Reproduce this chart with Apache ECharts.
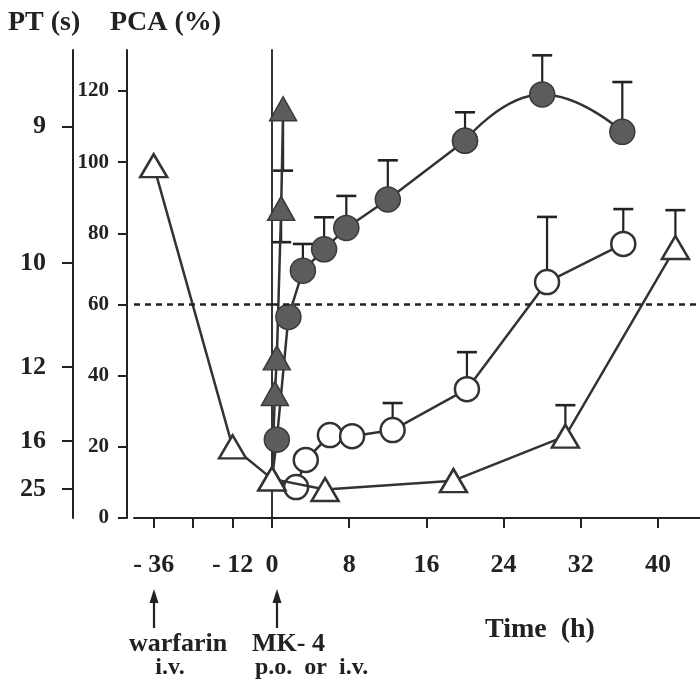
<!DOCTYPE html>
<html>
<head>
<meta charset="utf-8">
<script src="https://cdn.jsdelivr.net/npm/echarts@6/dist/echarts.min.js"></script>
<style>
  html, body { margin: 0; padding: 0; background: #fff; }
  #chart { width: 700px; height: 685px; }
</style>
</head>
<body>
<div id="chart"></div>
<script>
// Time axis (h): compressed pre-treatment section and main section
const preTicks = [-36, -24, -12, 0];
const preLabels = [-36, -12, 0];
const postTicks = [8, 16, 24, 32, 40];

// PCA axis (%)
const pcaTicks = [0, 20, 40, 60, 80, 100, 120];
// PT scale (s) and the PCA level each PT value corresponds to
const ptLabels = [9, 10, 12, 16, 25];
const ptAtPca = [110, 71.6, 42.4, 21.6, 8.1];
const pcaThreshold = 60;

// Warfarin only (open triangles)
const warfarinPreTime = [-36, -12, 0];
const warfarinPrePca = [99, 20, 11];
const warfarinTime = [0, 5.5, 18.8, 30.4, 41.8];
const warfarinPca = [11, 8, 10.5, 23, 76];
const warfarinUpper = [null, null, null, 31.7, 86.5];

// MK-4 i.v. (filled triangles)
const ivTime = [0, 0.3, 0.5, 0.95, 1.15];
const ivPca = [11, 35, 45, 87, 115];
const ivLower = [null, null, null, 77.5, 97.6];

// MK-4 p.o., fast responders (filled circles)
const poFastTime = [0, 0.5, 1.7, 3.2, 5.4, 7.7, 12, 20, 28, 36.3];
const poFastPca = [11, 22, 56.5, 69.5, 75.5, 81.5, 89.5, 106, 119, 108.5];
const poFastUpper = [null, null, null, 77, 84.5, 90.5, 100.5, 114, 130, 122.5];

// MK-4 p.o., slow responders (open circles)
const poSlowTime = [0, 2.5, 3.5, 6, 8.3, 12.5, 20.2, 28.5, 36.4];
const poSlowPca = [11, 8.7, 16.3, 23.3, 23, 24.7, 36.2, 66.3, 77];
const poSlowUpper = [null, null, null, null, null, 32.3, 46.6, 84.6, 86.8];

const INK = '#222';
const LINE = '#333';
const FONT = "'Liberation Serif', 'DejaVu Serif', serif";
const yMax = 131.5;

function pairs(xs, ys) { return xs.map((x, i) => [x, ys[i]]); }
function bars(xs, ys, bounds) {
  const out = [];
  xs.forEach((x, i) => { if (bounds[i] != null) out.push([x, ys[i], bounds[i]]); });
  return out;
}

// whisker from the mean to the bound, with a cap
function errorBarItem(params, api) {
  const p0 = api.coord([api.value(0), api.value(1)]);
  const p1 = api.coord([api.value(0), api.value(2)]);
  const half = 10;
  return {
    type: 'group',
    children: [
      { type: 'line', shape: { x1: p0[0], y1: p0[1], x2: p1[0], y2: p1[1] },
        style: { stroke: INK, lineWidth: 2.2 } },
      { type: 'line', shape: { x1: p1[0] - half, y1: p1[1], x2: p1[0] + half, y2: p1[1] },
        style: { stroke: INK, lineWidth: 2.6 } }
    ]
  };
}

function errorSeries(data, grid) {
  return {
    type: 'custom', xAxisIndex: grid, yAxisIndex: grid === 0 ? 0 : 2,
    renderItem: errorBarItem, data: data, z: 1, silent: true,
    encode: { x: 0, y: [1, 2] }
  };
}

const openTri = { symbol: 'triangle', symbolSize: [27, 23],
  itemStyle: { color: '#fff', borderColor: LINE, borderWidth: 2.5 } };
const fillTri = { symbol: 'triangle', symbolSize: [27, 24],
  itemStyle: { color: '#5c5c5c', borderColor: '#3a3a3a', borderWidth: 1.5 } };
const openCirc = { symbol: 'circle', symbolSize: 24,
  itemStyle: { color: '#fff', borderColor: LINE, borderWidth: 2.5 } };
const fillCirc = { symbol: 'circle', symbolSize: 25,
  itemStyle: { color: '#5c5c5c', borderColor: '#3a3a3a', borderWidth: 1.5 } };

function lineSeries(data, grid, marker, extra) {
  return Object.assign({
    type: 'line', xAxisIndex: grid, yAxisIndex: grid === 0 ? 0 : 2,
    data: data, z: 3,
    lineStyle: { color: LINE, width: 2.5 },
    symbol: marker.symbol, symbolSize: marker.symbolSize,
    itemStyle: marker.itemStyle, showSymbol: true, animation: false
  }, extra || {});
}

function thresholdLine() {
  return {
    silent: true, symbol: 'none', label: { show: false },
    lineStyle: { color: INK, type: [6, 5], width: 2.5 },
    data: [{ yAxis: pcaThreshold }]
  };
}

const labelStyle = { color: INK, fontFamily: FONT, fontWeight: 'bold' };
const axisLineStyle = { color: INK, width: 2 };

const chart = echarts.init(document.getElementById('chart'));

chart.setOption({
  animation: false,
  backgroundColor: '#fff',
  grid: [
    { left: 134, width: 138, top: 50, bottom: 167 },
    { left: 272, right: 0, top: 50, bottom: 167 }
  ],
  xAxis: [
    {
      type: 'value', gridIndex: 0, min: -42, max: 0,
      axisLine: { show: true, onZero: false, lineStyle: axisLineStyle },
      axisTick: { show: true, length: 10, lineStyle: axisLineStyle, customValues: preTicks },
      axisLabel: Object.assign({ fontSize: 26, margin: 34, customValues: preLabels,
        formatter: v => v < 0 ? '- ' + Math.abs(v) : String(v) }, labelStyle),
      splitLine: { show: false }
    },
    {
      type: 'value', gridIndex: 1, min: 0, max: 44.35,
      axisLine: { show: true, onZero: false, lineStyle: axisLineStyle },
      axisTick: { show: true, length: 10, lineStyle: axisLineStyle, customValues: postTicks },
      axisLabel: Object.assign({ fontSize: 26, margin: 34, customValues: postTicks }, labelStyle),
      splitLine: { show: false }
    }
  ],
  yAxis: [
    {
      // PCA (%)
      type: 'value', gridIndex: 0, min: 0, max: yMax, position: 'left', offset: 7,
      axisLine: { show: true, onZero: false, lineStyle: axisLineStyle },
      axisTick: { show: true, length: 9, lineStyle: axisLineStyle, customValues: pcaTicks },
      axisLabel: Object.assign({ fontSize: 21, margin: 18, customValues: pcaTicks }, labelStyle),
      splitLine: { show: false }
    },
    {
      // PT (s)
      type: 'value', gridIndex: 0, min: 0, max: yMax, position: 'left', offset: 61,
      axisLine: { show: true, onZero: false, lineStyle: axisLineStyle },
      axisTick: { show: true, length: 11, lineStyle: axisLineStyle, customValues: ptAtPca },
      axisLabel: Object.assign({ fontSize: 26, margin: 27, customValues: ptAtPca,
        formatter: v => {
          const i = ptAtPca.findIndex(p => Math.abs(p - v) < 1e-6);
          return i >= 0 ? String(ptLabels[i]) : '';
        } }, labelStyle),
      splitLine: { show: false }
    },
    {
      // time zero line
      type: 'value', gridIndex: 1, min: 0, max: yMax, position: 'left',
      axisLine: { show: true, onZero: false, lineStyle: { color: INK, width: 1.8 } },
      axisTick: { show: false }, axisLabel: { show: false }, splitLine: { show: false }
    }
  ],
  series: [
    // threshold line across both sections
    { type: 'line', xAxisIndex: 0, yAxisIndex: 0, data: [], markLine: thresholdLine() },
    { type: 'line', xAxisIndex: 1, yAxisIndex: 2, data: [], markLine: thresholdLine() },

    // error bars
    errorSeries(bars(warfarinTime, warfarinPca, warfarinUpper), 1),
    errorSeries(bars(ivTime, ivPca, ivLower), 1),
    errorSeries(bars(poFastTime, poFastPca, poFastUpper), 1),
    errorSeries(bars(poSlowTime, poSlowPca, poSlowUpper), 1),

    // warfarin only
    lineSeries(pairs(warfarinPreTime, warfarinPrePca), 0, openTri),
    lineSeries(pairs(warfarinTime, warfarinPca), 1, openTri, { z: 4 }),

    // MK-4 p.o. slow (starts from the common time-zero point)
    lineSeries(pairs(poSlowTime, poSlowPca), 1, openCirc, {
      symbolSize: (v, p) => p.dataIndex === 0 ? 0 : 24
    }),

    // MK-4 p.o. fast: straight rise, then a smooth arch over the last points
    lineSeries(pairs(poFastTime.slice(0, 8), poFastPca.slice(0, 8)), 1, fillCirc, {
      symbolSize: (v, p) => p.dataIndex === 0 ? 0 : 25
    }),
    lineSeries(pairs(poFastTime.slice(7), poFastPca.slice(7)), 1, fillCirc, { smooth: 0.5 }),

    // MK-4 i.v.
    lineSeries(pairs(ivTime, ivPca), 1, fillTri, {
      symbolSize: (v, p) => p.dataIndex === 0 ? 0 : [27, 24]
    })
  ],
  graphic: [
    { type: 'text', x: 8, y: 23, style: { text: 'PT (s)', font: 'bold 28px ' + FONT, fill: INK, textVerticalAlign: 'middle' } },
    { type: 'text', x: 110, y: 23, style: { text: 'PCA (%)', font: 'bold 28px ' + FONT, fill: INK, textVerticalAlign: 'middle' } },

    // dosing arrows
    { type: 'line', shape: { x1: 154, y1: 600, x2: 154, y2: 628 }, style: { stroke: INK, lineWidth: 2.2 } },
    { type: 'polygon', shape: { points: [[154, 589], [149.5, 603], [158.5, 603]] }, style: { fill: INK } },
    { type: 'line', shape: { x1: 277, y1: 600, x2: 277, y2: 628 }, style: { stroke: INK, lineWidth: 2.2 } },
    { type: 'polygon', shape: { points: [[277, 589], [272.5, 603], [281.5, 603]] }, style: { fill: INK } },

    { type: 'text', x: 178, y: 644, style: { text: 'warfarin', font: 'bold 26px ' + FONT, fill: INK, textAlign: 'center', textVerticalAlign: 'middle' } },
    { type: 'text', x: 170, y: 668, style: { text: 'i.v.', font: 'bold 24px ' + FONT, fill: INK, textAlign: 'center', textVerticalAlign: 'middle' } },
    { type: 'text', x: 252, y: 644, style: { text: 'MK- 4', font: 'bold 26px ' + FONT, fill: INK, textVerticalAlign: 'middle' } },
    { type: 'text', x: 255, y: 668, style: { text: 'p.o.  or  i.v.', font: 'bold 24px ' + FONT, fill: INK, textVerticalAlign: 'middle' } },
    { type: 'text', x: 485, y: 630, style: { text: 'Time  (h)', font: 'bold 28px ' + FONT, fill: INK, textVerticalAlign: 'middle' } }
  ]
});
</script>
</body>
</html>
